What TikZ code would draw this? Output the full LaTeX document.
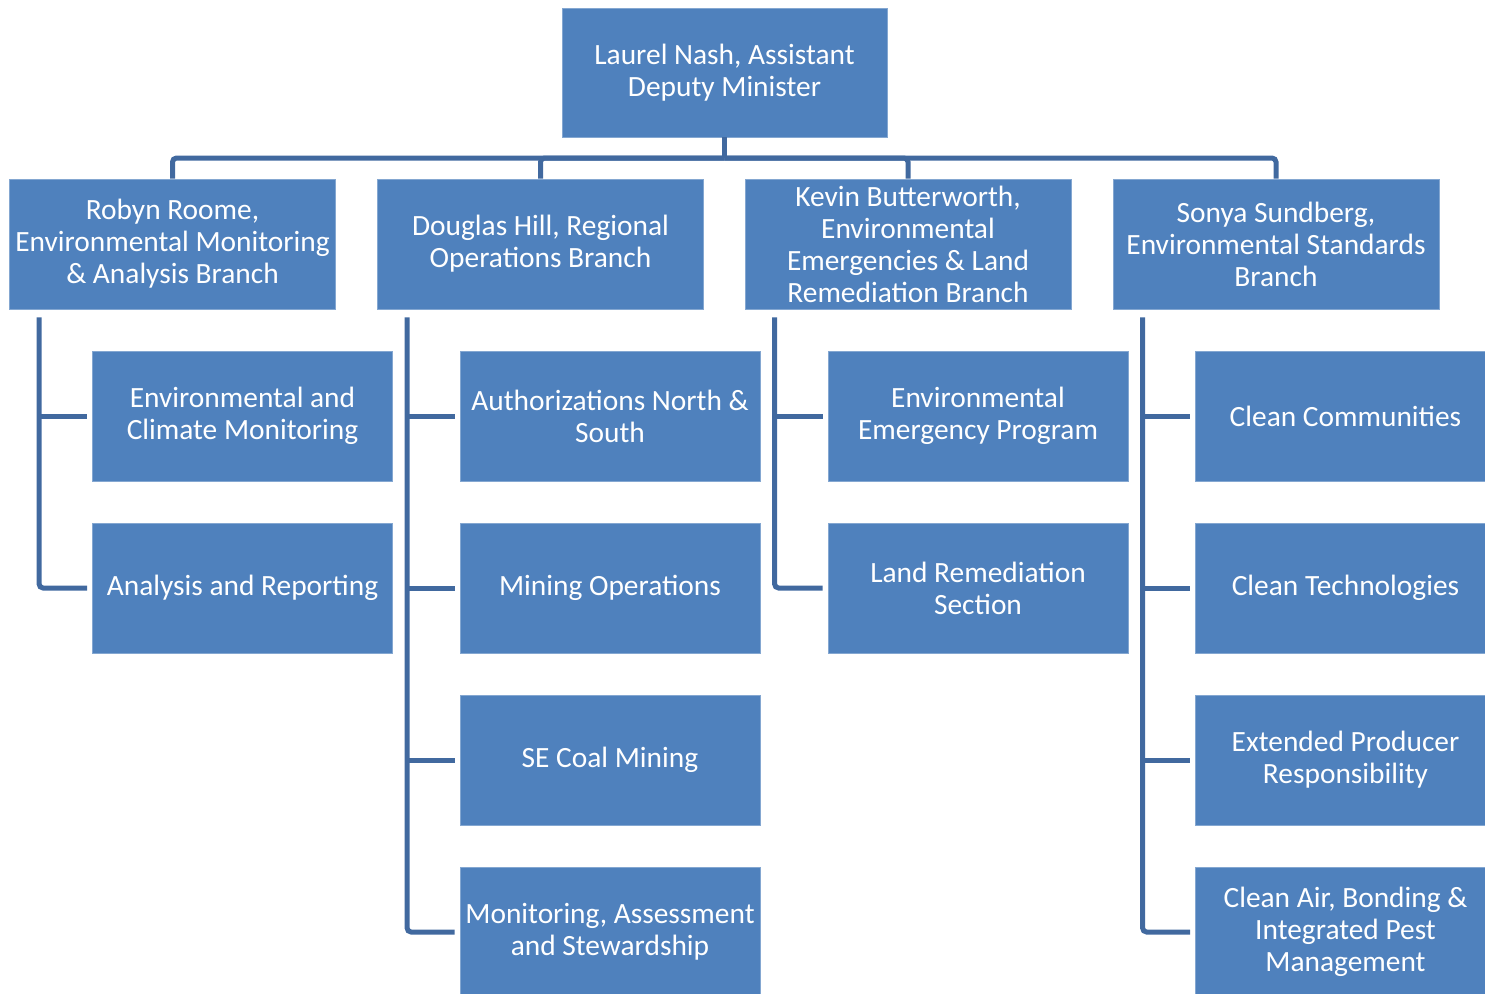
\documentclass[tikz,border=0pt]{standalone}
\usepackage{fontspec}
\setmainfont{Carlito}
\usetikzlibrary{calc}
\definecolor{boxblue}{HTML}{4F81BD}
\definecolor{lineblue}{HTML}{41699F}
\begin{document}
\begin{tikzpicture}[x=0.5pt,y=-0.5pt,
  box/.style={fill=boxblue,draw=boxblue!70!white,line width=0.4pt,text=white,align=center,inner sep=0pt,font=\fontsize{14.7}{16}\selectfont},
  topbox/.style={box,minimum width=162.5pt,minimum height=64.5pt},
  branchbox/.style={box,minimum width=163pt,minimum height=65pt},
  unitbox/.style={box,minimum width=150pt,minimum height=65pt},
  conn/.style={draw=lineblue,line width=2.5pt,rounded corners=2pt}]
\useasboundingbox (0,0) rectangle (1485,993);
% top
\node[topbox] (top) at (724.5,72.5) {Laurel Nash, Assistant\\Deputy Minister};
% branches
\node[branchbox] (b1) at (172.5,244) {Robyn Roome,\\Environmental Monitoring\\\& Analysis Branch};
\node[branchbox] (b2) at (540.5,244) {Douglas Hill, Regional\\Operations Branch};
\node[branchbox] (b3) at (908,244) {Kevin Butterworth,\\Environmental\\Emergencies \& Land\\Remediation Branch};
\node[branchbox] (b4) at (1276,244) {Sonya Sundberg,\\Environmental Standards\\Branch};
% units
\node[unitbox] (c11) at (242.5,416) {Environmental and\\Climate Monitoring};
\node[unitbox] (c12) at (242.5,588) {Analysis and Reporting};
\node[unitbox] (c21) at (610,416) {Authorizations North \&\\South};
\node[unitbox] (c22) at (610,588) {Mining Operations};
\node[unitbox] (c23) at (610,760) {SE Coal Mining};
\node[unitbox] (c24) at (610,932) {Monitoring, Assessment\\and Stewardship};
\node[unitbox] (c31) at (978,416) {Environmental\\Emergency Program};
\node[unitbox] (c32) at (978,588) {Land Remediation\\Section};
\node[unitbox] (c41) at (1345.5,416) {Clean Communities};
\node[unitbox] (c42) at (1345.5,588) {Clean Technologies};
\node[unitbox] (c43) at (1345.5,760) {Extended Producer\\Responsibility};
\node[unitbox] (c44) at (1345.5,932) {Clean Air, Bonding \&\\Integrated Pest\\Management};
% top connectors
\coordinate (bus) at (724.5,158);
\draw[conn] (top.south) -- (bus);
\foreach \b in {b1,b2,b3,b4}{
  \draw[conn] (\b.north) |- (bus);
}
% unit connectors
\foreach \b/\last/\others in {b1/c12/{c11},b2/c24/{c21,c22,c23},b3/c32/{c31},b4/c44/{c41,c42,c43}}{
  \coordinate (v) at ($(\b.south west)+(30,8)$);
  \draw[conn] (v) |- ($(\last.west)+(-5,0)$);
  \foreach \c in \others{
    \draw[conn] (v |- \c.west) -- ($(\c.west)+(-5,0)$);
  }
}
\end{tikzpicture}
\end{document}
